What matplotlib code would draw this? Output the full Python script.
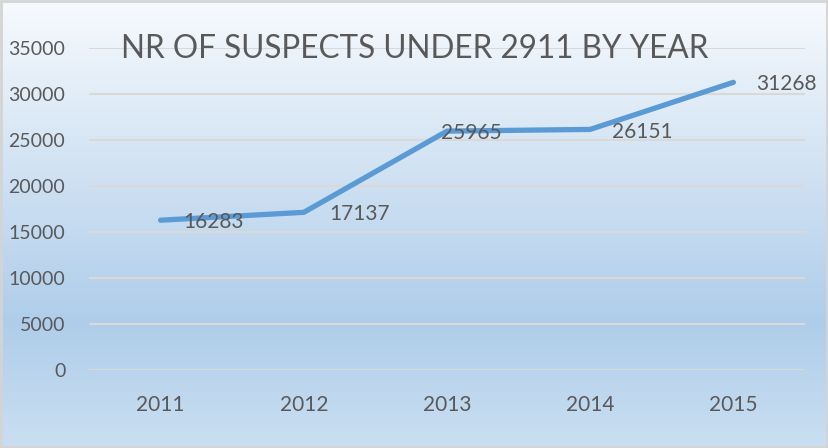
import matplotlib.pyplot as plt
import matplotlib.colors as mcolors
import numpy as np

# chart data
years = ['2011', '2012', '2013', '2014', '2015']
suspects = [16283, 17137, 25965, 26151, 31268]
# label offsets in pixels (dx, dy) from each point
label_offsets = [(23, -2), (25, -2), (-6, -2), (22, -3), (23, -2)]

plt.rcParams['font.family'] = ['Lato', 'DejaVu Sans']
text_color = '#595959'

fig = plt.figure(figsize=(8.29, 4.48), dpi=100)

# gradient background over the whole figure
bg = fig.add_axes([0, 0, 1, 1], zorder=0)
cmap = mcolors.LinearSegmentedColormap.from_list(
    'bg', [(0.0, '#F7FAFD'), (0.72, '#AFCDEA'), (1.0, '#CADFF1')])
grad = np.linspace(0, 1, 256).reshape(-1, 1)
bg.imshow(grad, aspect='auto', cmap=cmap, extent=[0, 1, 0, 1], origin='upper')
bg.add_patch(plt.Rectangle((0.001, 0.002), 0.997, 0.995, fill=False,
                           edgecolor='#D4D4D4', linewidth=2, transform=bg.transAxes))
bg.set_xlim(0, 1)
bg.set_ylim(0, 1)
bg.axis('off')

ax = fig.add_axes([89 / 829, 1 - 370 / 448, 716 / 829, 322 / 448], zorder=1)
ax.patch.set_alpha(0)
x = np.arange(len(years))
ax.plot(x, suspects, color='#5B9BD5', linewidth=3.8, solid_capstyle='round',
        solid_joinstyle='round', zorder=3)

for xi, v, (dx, dy) in zip(x, suspects, label_offsets):
    ax.annotate(str(v), (xi, v), xytext=(dx * 0.72, dy * 0.72), textcoords='offset points',
                ha='left', va='center', fontsize=15, color=text_color, zorder=4)

ax.set_xlim(-0.5, len(years) - 0.5)
ax.set_ylim(0, 35000)
ax.set_yticks(np.arange(0, 35001, 5000))
ax.set_xticks(x)
ax.set_xticklabels(years)
ax.grid(axis='y', color='#D9D9D9', linewidth=1.5)
ax.set_axisbelow(True)
for s in ax.spines.values():
    s.set_visible(False)
ax.tick_params(axis='both', length=0, labelsize=14, colors=text_color)
ax.tick_params(axis='x', labelsize=15)
ax.tick_params(axis='y', pad=17)
ax.tick_params(axis='x', pad=18)

fig.text(0.5, 1 - 58 / 448, 'NR OF SUSPECTS UNDER 2911 BY YEAR', ha='center',
         va='baseline', fontsize=22.7, color=text_color, zorder=5)

fig.savefig('out.png', dpi=100)
